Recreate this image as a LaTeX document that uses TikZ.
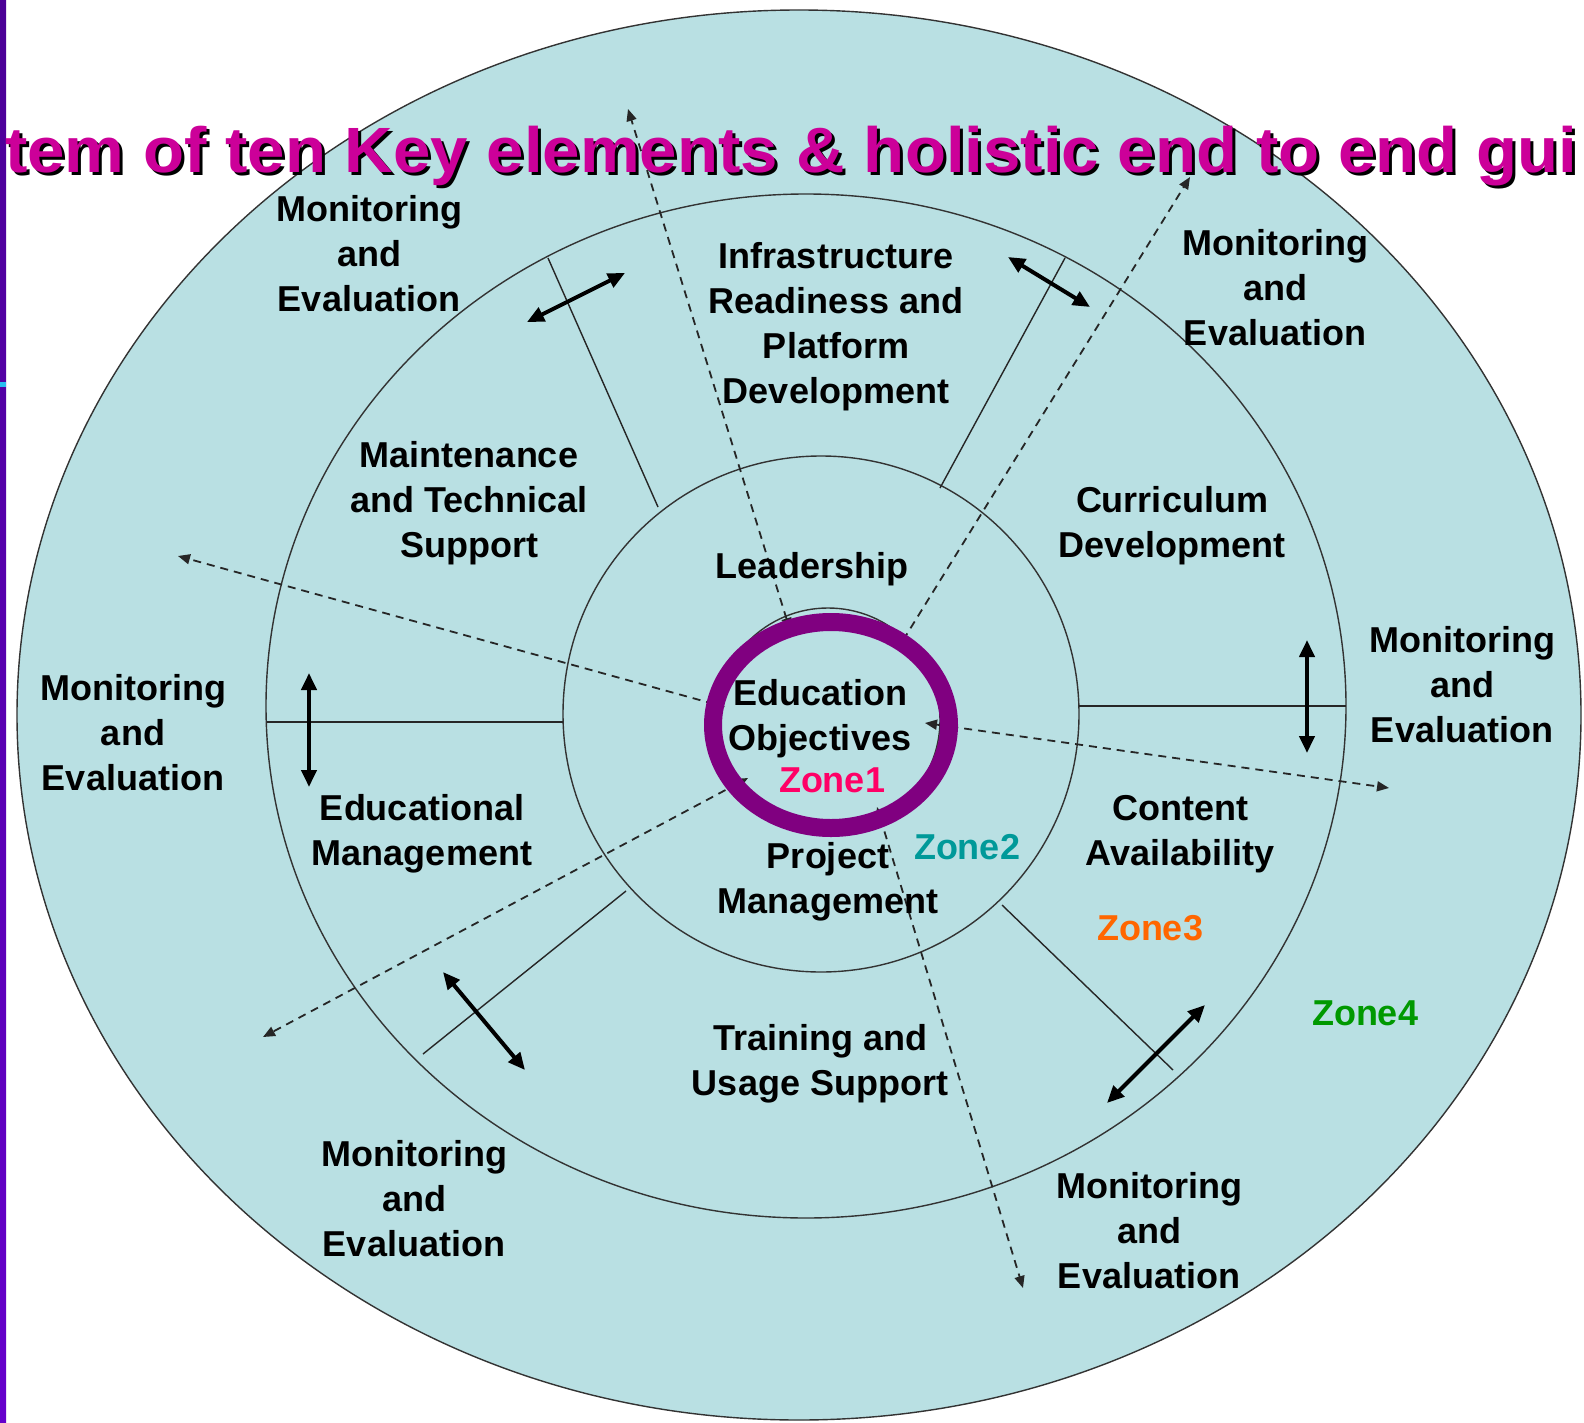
\documentclass[tikz,border=0pt]{standalone}
\usepackage{fontspec}
\setmainfont{Liberation Sans}
\usetikzlibrary{arrows.meta,shapes.geometric}

\definecolor{ringfill}{RGB}{185,224,227}
\definecolor{ringpurple}{RGB}{128,0,128}
\definecolor{titlemag}{RGB}{204,0,153}
\definecolor{zoneone}{RGB}{255,0,102}
\definecolor{zonetwo}{RGB}{0,153,153}
\definecolor{zonethree}{RGB}{255,102,0}
\definecolor{zonefour}{RGB}{0,153,0}
\definecolor{bartop}{RGB}{75,0,150}
\definecolor{barbottom}{RGB}{102,0,204}
\definecolor{barmark}{RGB}{40,190,240}

\begin{document}
\begin{tikzpicture}[x=1pt,y=-1pt,
	ring/.style={draw=black!80,line width=1.4pt,fill=ringfill,ellipse,inner sep=0pt},
	spoke/.style={draw=black!85,line width=1.4pt},
	flow/.style={draw=black!85,line width=1.8pt,dash pattern=on 8pt off 6pt,{Triangle[length=12pt,width=10pt]}-{Triangle[length=12pt,width=10pt]}},
	me arrow/.style={line width=4pt,{Triangle[length=17pt,width=15pt]}-{Triangle[length=17pt,width=15pt]}},
	main node/.style={font=\fontsize{36}{45}\selectfont\bfseries,align=center,inner sep=0pt},
	zone/.style={font=\fontsize{36}{45}\selectfont\bfseries,inner sep=0pt}]
	\useasboundingbox (0,0) rectangle (1584,1423);
	
	% bar on the left
	\shade[top color=bartop,bottom color=barbottom] (0,0) rectangle (6,1423);
	\fill[barmark] (0,382) rectangle (6,387);
	
	% rings
	\node[ring,minimum width=1564pt,minimum height=1410pt] (outer) at (799,715) {};
	\node[ring,minimum width=1080pt,minimum height=1024pt] (middle) at (806,706) {};
	\node[ring,minimum width=516pt,minimum height=516pt] (inner) at (821,714) {};
	\node[draw=black!80,line width=1.4pt,circle,minimum size=224pt,inner sep=0pt] (core) at (828,720) {};
	
	% spokes
	\coordinate (s1) at (548,258);  \coordinate (t1) at (658,507);
	\coordinate (s2) at (1065,258); \coordinate (t2) at (940,488);
	\coordinate (s3) at (1346,706); \coordinate (t3) at (1079,706);
	\coordinate (s4) at (1173,1070);\coordinate (t4) at (1002,905);
	\coordinate (s5) at (423,1054); \coordinate (t5) at (626,891);
	\coordinate (s6) at (267,722);  \coordinate (t6) at (563,722);
	\draw[spoke] (s1) -- (t1);
	\draw[spoke] (s2) -- (t2);
	\draw[spoke] (s3) -- (t3);
	\draw[spoke] (s4) -- (t4);
	\draw[spoke] (s5) -- (t5);
	\draw[spoke] (s6) -- (t6);
	
	% dashed arrows out of the centre
	\coordinate (a1) at (790,630);  \coordinate (b1) at (628,109);
	\coordinate (a2) at (897,650);  \coordinate (b2) at (1190,177);
	\coordinate (a3) at (925,723);  \coordinate (b3) at (1389,788);
	\coordinate (a4) at (877,807);  \coordinate (b4) at (1023,1288);
	\coordinate (a5) at (748,778);  \coordinate (b5) at (263,1037);
	\coordinate (a6) at (725,707);  \coordinate (b6) at (178,556);
	\draw[flow] (a1) -- (b1);
	\draw[flow] (a2) -- (b2);
	\draw[flow] (a3) -- (b3);
	\draw[flow] (a4) -- (b4);
	\draw[flow] (a5) -- (b5);
	\draw[flow] (a6) -- (b6);
	
	% arrows across the middle ring
	\coordinate (m1) at (527,322);  \coordinate (n1) at (625,273);
	\coordinate (m2) at (1008,257); \coordinate (n2) at (1090,307);
	\coordinate (m3) at (1307,640); \coordinate (n3) at (1307,753);
	\coordinate (m4) at (1205,1005);\coordinate (n4) at (1107,1103);
	\coordinate (m5) at (443,972);  \coordinate (n5) at (525,1070);
	\coordinate (m6) at (309,673);  \coordinate (n6) at (309,787);
	\draw[me arrow] (m1) -- (n1);
	\draw[me arrow] (m2) -- (n2);
	\draw[me arrow] (m3) -- (n3);
	\draw[me arrow] (m4) -- (n4);
	\draw[me arrow] (m5) -- (n5);
	\draw[me arrow] (m6) -- (n6);
	
	\node[draw=ringpurple,line width=18pt,ellipse,minimum width=236pt,minimum height=206pt,inner sep=0pt] (focus) at (831,725) {};
	
	% labels
	\node[main node] (me1) at (369,254) {Monitoring\\and\\Evaluation};
	\node[main node] (me2) at (1275,288) {Monitoring\\and\\Evaluation};
	\node[main node] (me3) at (1462,685) {Monitoring\\and\\Evaluation};
	\node[main node] (me4) at (133,733) {Monitoring\\and\\Evaluation};
	\node[main node] (me5) at (414,1199) {Monitoring\\and\\Evaluation};
	\node[main node] (me6) at (1149,1231) {Monitoring\\and\\Evaluation};
	
	\node[main node] (infra) at (836,327) {Infrastructure\\Readiness and\\Platform\\Development};
	\node[main node] (maint) at (469,503) {Maintenance\\and Technical\\Support};
	\node[main node] (curric) at (1172,526) {Curriculum\\Development};
	\node[main node] (lead) at (812,569) {Leadership};
	\node[main node] (eduobj) at (820,719) {Education\\Objectives};
	\node[main node] (proj) at (828,882) {Project\\Management};
	\node[main node] (content) at (1180,834) {Content\\Availability};
	\node[main node] (edumgmt) at (422,834) {Educational\\Management};
	\node[main node] (training) at (820,1064) {Training and\\Usage Support};
	
	\node[zone,text=zoneone] (zone1) at (832,780) {Zone1};
	\node[zone,text=zonetwo] (zone2) at (967,847) {Zone2};
	\node[zone,text=zonethree] (zone3) at (1150,928) {Zone3};
	\node[zone,text=zonefour] (zone4) at (1365,1013) {Zone4};
	
	% title
	\node[anchor=base west,inner sep=0pt,xscale=1.05,transform shape,text=black,font=\fontsize{64}{70}\selectfont\bfseries] (shadow) at (8,176) {tem of ten Key elements \& holistic end to end gui};
	\node[anchor=base west,inner sep=0pt,xscale=1.05,transform shape,text=titlemag,font=\fontsize{64}{70}\selectfont\bfseries] (title) at (5,173) {tem of ten Key elements \& holistic end to end gui};
\end{tikzpicture}
\end{document}
